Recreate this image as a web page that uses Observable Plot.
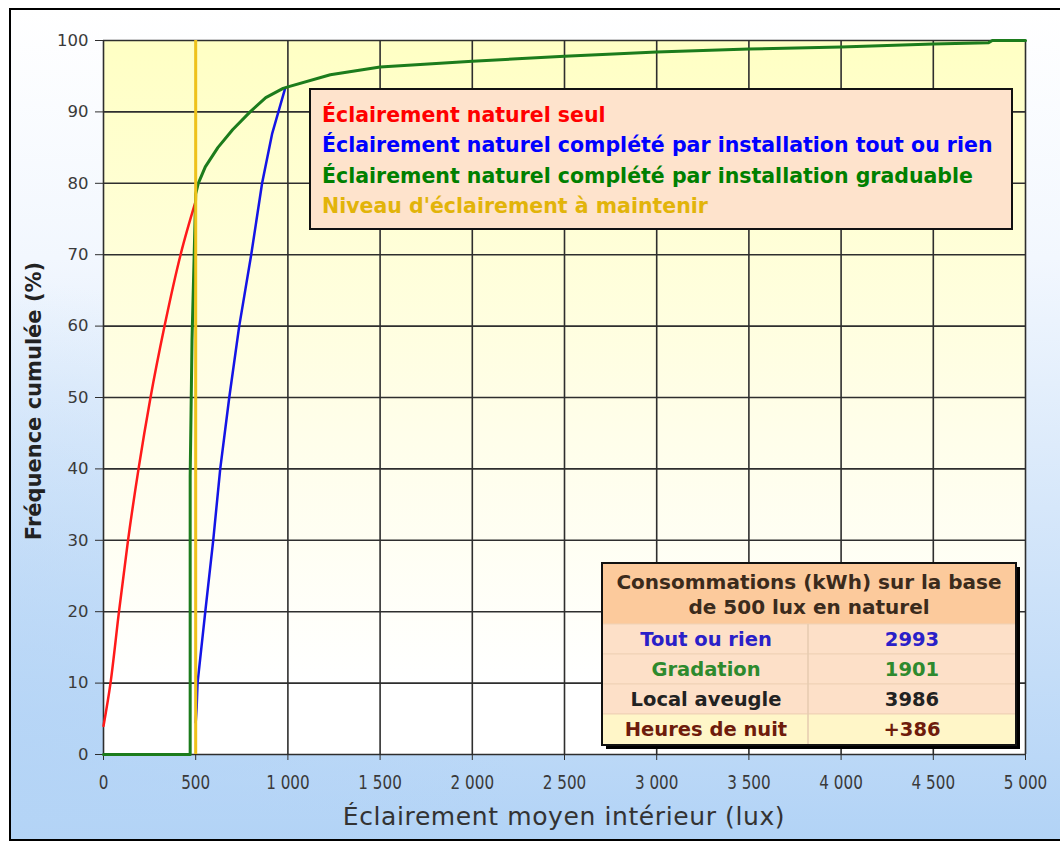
<!DOCTYPE html>
<html><head><meta charset="utf-8">
<script src="https://cdn.jsdelivr.net/npm/d3@7"></script>
<script src="https://cdn.jsdelivr.net/npm/@observablehq/plot@0.6"></script>
<style>body{margin:0;background:#fff;} svg{display:block}</style>
</head><body><div id="chart"></div>
<script>
// ---- data ----
const xTicks = [0, 500, 1000, 1500, 2000, 2500, 3000, 3500, 4000, 4500, 5000];
const yTicks = [0, 10, 20, 30, 40, 50, 60, 70, 80, 90, 100];

// Éclairement naturel seul
const redLux = [0, 38, 84, 133, 190, 255, 331, 418, 500];
const redPct = [4, 10, 20, 30, 40, 50, 60, 70, 77.5];

// Éclairement naturel complété par installation tout ou rien
const blueLux = [500, 505, 510, 552, 595, 633, 682, 736, 801, 860, 915, 985];
const bluePct = [4.5, 6.5, 10, 20, 30, 40, 50, 60, 70, 80, 87, 93.3];

// Éclairement naturel complété par installation graduable
const greenLux = [0, 470, 470, 480, 500, 514, 552, 620, 700, 795, 880, 974, 1000, 1230, 1500, 2000, 2500, 3000, 3500, 4000, 4500, 4800, 4820, 5000];
const greenPct = [0, 0, 39, 58, 78.5, 80, 82.3, 85, 87.5, 90, 92, 93.3, 93.5, 95.2, 96.3, 97.1, 97.8, 98.4, 98.8, 99.1, 99.5, 99.7, 100, 100];

// Niveau d'éclairement à maintenir
const setpoint = [500];

const legendLabels = [
  "Éclairement naturel seul",
  "Éclairement naturel complété par installation tout ou rien",
  "Éclairement naturel complété par installation graduable",
  "Niveau d'éclairement à maintenir"
];
const tableHeader = ["Consommations (kWh) sur la base", "de 500 lux en naturel"];
const tableLabels = ["Tout ou rien", "Gradation", "Local aveugle", "Heures de nuit"];
const tableValues = ["2993", "1901", "3986", "+386"];

const xTitle = "Éclairement moyen intérieur (lux)";
const yTitle = "Fréquence cumulée (%)";

// ---- styles ----
const C = {red: "#ff1a1a", blue: "#1414e6", green: "#1c7c1c", gold: "#efc21a"};
const legendColors = ["#ff0000", "#0000ff", "#008000", "#e2b40a"];
const tableColors = ["#2a20c8", "#2e8a2e", "#222222", "#6e1c0c"];

const toRows = (xs, ys) => xs.map((lux, i) => ({lux, pct: ys[i]}));
const fmt = d => d3.format(",")(d).replace(/,/g, " ");

const chart = Plot.plot({
  width: 1060,
  height: 842,
  marginLeft: 103,
  marginRight: 35,
  marginTop: 40,
  marginBottom: 88,
  style: {background: "transparent", fontFamily: "'DejaVu Sans', sans-serif"},
  x: {domain: [0, 5000], label: null},
  y: {domain: [0, 100], label: null},
  marks: [
    Plot.frame({fill: "url(#plotBg)", stroke: "none"}),
    Plot.gridX(xTicks, {stroke: "#2e2e2e", strokeOpacity: 1, strokeWidth: 1.6}),
    Plot.gridY(yTicks, {stroke: "#2e2e2e", strokeOpacity: 1, strokeWidth: 1.6}),
    Plot.axisY(yTicks, {tickSize: 8, tickPadding: 7, stroke: "#2e2e2e", fill: "#3a3a3a", label: null}),
    Plot.axisX(xTicks, {tickSize: 6, tickPadding: 14, stroke: "#2e2e2e", fill: "#3a3a3a", label: null, tickFormat: fmt}),
    Plot.line(toRows(redLux, redPct), {x: "lux", y: "pct", stroke: C.red, strokeWidth: 2.5, curve: "monotone-x"}),
    Plot.line(toRows(blueLux, bluePct), {x: "lux", y: "pct", stroke: C.blue, strokeWidth: 2.5}),
    Plot.line(toRows(greenLux, greenPct), {x: "lux", y: "pct", stroke: C.green, strokeWidth: 3}),
    Plot.ruleX(setpoint, {y1: 0, y2: 100, stroke: C.gold, strokeWidth: 3})
  ]
});
document.getElementById("chart").append(chart);

const svg = d3.select(chart);
svg.attr("font-family", "'DejaVu Sans', sans-serif");

// gradients
const defs = svg.insert("defs", ":first-child");
const g1 = defs.append("linearGradient").attr("id", "outerBg").attr("x1", 0).attr("y1", 0).attr("x2", 0).attr("y2", 1);
g1.append("stop").attr("offset", "0%").attr("stop-color", "#ffffff");
g1.append("stop").attr("offset", "30%").attr("stop-color", "#f2f7fe");
g1.append("stop").attr("offset", "60%").attr("stop-color", "#d6e7fa");
g1.append("stop").attr("offset", "100%").attr("stop-color", "#b2d3f6");
const g3 = defs.append("radialGradient").attr("id", "leftTint").attr("gradientUnits", "userSpaceOnUse")
  .attr("cx", 0).attr("cy", 800).attr("r", 520);
g3.append("stop").attr("offset", "0%").attr("stop-color", "#b4d4f6").attr("stop-opacity", 0.9);
g3.append("stop").attr("offset", "100%").attr("stop-color", "#b4d4f6").attr("stop-opacity", 0);
const g2 = defs.append("linearGradient").attr("id", "plotBg").attr("x1", 0).attr("y1", 0).attr("x2", 0).attr("y2", 1);
g2.append("stop").attr("offset", "0%").attr("stop-color", "#ffffc4");
g2.append("stop").attr("offset", "55%").attr("stop-color", "#fffeea");
g2.append("stop").attr("offset", "90%").attr("stop-color", "#ffffff");

// outer frame
const bgG = svg.insert("g", "defs + *");
bgG.append("rect")
  .attr("x", 10).attr("y", 9).attr("width", 1070).attr("height", 831)
  .attr("fill", "url(#outerBg)");
bgG.append("rect")
  .attr("x", 10).attr("y", 9).attr("width", 1070).attr("height", 831)
  .attr("fill", "url(#leftTint)");
bgG.append("rect")
  .attr("x", 10).attr("y", 9).attr("width", 1070).attr("height", 831)
  .attr("fill", "none").attr("stroke", "#000").attr("stroke-width", 2);

// tick label fonts
svg.selectAll('[aria-label="y-axis tick label"]').attr("font-size", 16.5);
svg.selectAll('[aria-label="y-axis tick label"] text').attr("font-size", 16.5);
svg.selectAll('[aria-label="x-axis tick label"]').attr("font-size", 20);
svg.selectAll('[aria-label="x-axis tick label"] text').attr("font-size", 20).each(function() {
  const len = this.getComputedTextLength();
  if (len > 0) d3.select(this).attr("textLength", len * 0.76).attr("lengthAdjust", "spacingAndGlyphs");
});

// axis titles
svg.append("text").text(xTitle)
  .attr("x", 564).attr("y", 825).attr("text-anchor", "middle")
  .attr("font-size", 25).attr("letter-spacing", 0.6).attr("fill", "#333");
svg.append("text").text(yTitle)
  .attr("transform", "translate(41,401) rotate(-90)").attr("text-anchor", "middle")
  .attr("font-size", 21).attr("font-weight", "bold").attr("fill", "#222");

// legend box
const lg = svg.append("g").attr("text-anchor", "start");
lg.append("rect").attr("x", 310).attr("y", 89).attr("width", 702).attr("height", 140)
  .attr("fill", "#fee3cc").attr("stroke", "#111").attr("stroke-width", 2);
legendLabels.forEach((t, i) => {
  lg.append("text").text(t).attr("x", 322).attr("y", 122 + i * 30.3).attr("text-anchor", "start")
    .attr("font-size", 20.5).attr("font-weight", "bold").attr("fill", legendColors[i]);
});

// table
const tb = svg.append("g").attr("font-weight", "bold");
const tx = 602, ty = 563, tw = 414, th = 182, split = 808;
tb.append("rect").attr("x", tx + 4).attr("y", ty + 4).attr("width", tw).attr("height", th).attr("fill", "#000");
tb.append("rect").attr("x", tx).attr("y", ty).attr("width", tw).attr("height", 61).attr("fill", "#fcca9c");
const rowY = [624, 654, 684, 714, 745];
tableLabels.forEach((t, i) => {
  tb.append("rect").attr("x", tx).attr("y", rowY[i]).attr("width", tw).attr("height", rowY[i + 1] - rowY[i])
    .attr("fill", i === 3 ? "#fff6c8" : "#fde0c8").attr("stroke", "#efd2b6").attr("stroke-width", 1);
});
tb.append("line").attr("x1", split).attr("x2", split).attr("y1", 624).attr("y2", 745).attr("stroke", "#e6cbb0").attr("stroke-width", 1.5);
tb.append("rect").attr("x", tx).attr("y", ty).attr("width", tw).attr("height", th)
  .attr("fill", "none").attr("stroke", "#111").attr("stroke-width", 2);
tableHeader.forEach((t, i) => {
  tb.append("text").text(t).attr("x", 809).attr("y", 589 + i * 25).attr("text-anchor", "middle")
    .attr("font-size", 20).attr("fill", "#3b2b1c");
});
tableLabels.forEach((t, i) => {
  tb.append("text").text(t).attr("x", 706).attr("y", rowY[i] + 22).attr("text-anchor", "middle")
    .attr("font-size", 19.5).attr("fill", tableColors[i]);
  tb.append("text").text(tableValues[i]).attr("x", 912).attr("y", rowY[i] + 22).attr("text-anchor", "middle")
    .attr("font-size", 19.5).attr("fill", tableColors[i]);
});
</script>
</body></html>
